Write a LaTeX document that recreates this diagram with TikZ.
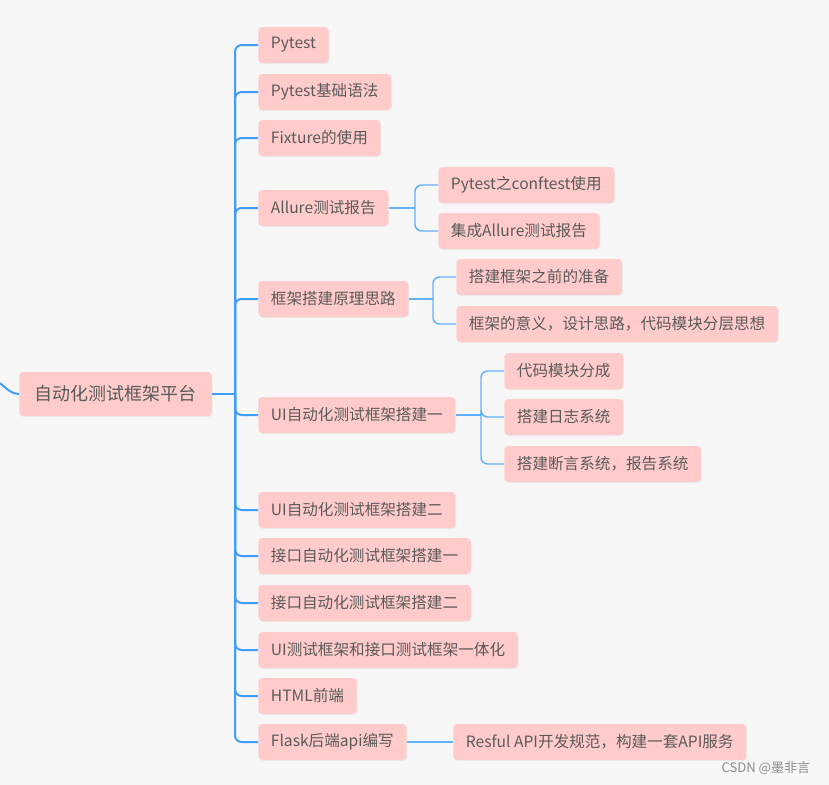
\documentclass[tikz,border=0pt]{standalone}
\usepackage{fontspec}
\setmainfont{Noto Sans CJK SC}
\usetikzlibrary{shadows}

\definecolor{paper}{HTML}{F7F7F7}
\definecolor{pinkfill}{HTML}{FFCCCB}
\definecolor{inkgrey}{HTML}{5A5A5A}
\definecolor{trunkblue}{HTML}{3D9EFF}
\definecolor{linkblue}{HTML}{62B1FF}

\begin{document}
\begin{tikzpicture}[x = 0.75pt, y = -0.75pt,
	topic/.style = {fill = pinkfill, text = inkgrey, rounded corners = 3pt,
		font = \fontsize{11.7}{14}\selectfont, minimum height = 27pt,
		inner xsep = 9.5pt, anchor = west,
		drop shadow = {shadow xshift = 0.6pt, shadow yshift = -0.8pt, fill = black!12}},
	roottopic/.style = {topic, font = \fontsize{13.5}{16}\selectfont,
		minimum height = 33pt, inner xsep = 11.5pt},
	trunk/.style = {draw = trunkblue, line width = 1.5pt, rounded corners = 5pt},
	link/.style = {draw = linkblue, line width = 1.1pt, rounded corners = 5pt}]

	% Canvas
	
	\fill [paper] (0, 0) rectangle (829, 785);
	\useasboundingbox (0, 0) rectangle (829, 785);

	% Root topic
	
	\coordinate (parent) at (0, 383);
	\node [roottopic] (root) at (19, 394) {自动化测试框架平台};
	\coordinate (fork) at (235, 394);

	% Main topics
	
	\node [topic] (pytest) at (258, 45) {Pytest};
	\node [topic] (syntax) at (258, 92) {Pytest基础语法};
	\node [topic] (fixture) at (258, 138) {Fixture的使用};
	\node [topic] (allure) at (258, 208) {Allure测试报告};
	\node [topic] (principle) at (258, 299) {框架搭建原理思路};
	\node [topic] (uione) at (258, 415) {UI自动化测试框架搭建一};
	\node [topic] (uitwo) at (258, 510) {UI自动化测试框架搭建二};
	\node [topic] (apione) at (258, 556) {接口自动化测试框架搭建一};
	\node [topic] (apitwo) at (258, 603) {接口自动化测试框架搭建二};
	\node [topic] (unify) at (258, 650) {UI测试框架和接口测试框架一体化};
	\node [topic] (html) at (258, 696) {HTML前端};
	\node [topic] (flask) at (258, 742) {Flask后端api编写};

	% Sub topics
	
	\node [topic] (conftest) at (438, 185) {Pytest之conftest使用};
	\node [topic] (report) at (438, 231) {集成Allure测试报告};
	\node [topic] (prepare) at (456, 277) {搭建框架之前的准备};
	\node [topic] (meaning) at (456, 324) {框架的意义，设计思路，代码模块分层思想};
	\node [topic] (modules) at (504, 371) {代码模块分成};
	\node [topic] (logging) at (504, 417) {搭建日志系统};
	\node [topic] (asserts) at (504, 464) {搭建断言系统，报告系统};
	\node [topic] (restful) at (453, 742) {Resful API开发规范，构建一套API服务};

	% Forks of the sub topics
	
	\coordinate (allurefork) at (415, 208);
	\coordinate (principlefork) at (433, 299);
	\coordinate (uionefork) at (481, 415);

	% Connectors (root)
	
	\draw [trunk] (parent) .. controls (8, 390) and (12, 394) .. (root.west);
	\draw [trunk] (root.east) -- (fork);
	\foreach \child in {pytest, syntax, fixture, allure, principle, uione,
		uitwo, apione, apitwo, unify, html, flask}
		\draw [trunk] (fork) |- (\child.west);

	% Connectors (sub topics)
	
	\draw [link] (allure.east) -- (allurefork);
	\foreach \child in {conftest, report}
		\draw [link] (allurefork) |- (\child.west);
	\draw [link] (principle.east) -- (principlefork);
	\foreach \child in {prepare, meaning}
		\draw [link] (principlefork) |- (\child.west);
	\draw [link] (uione.east) -- (uionefork);
	\foreach \child in {modules, logging, asserts}
		\draw [link] (uionefork) |- (\child.west);
	\draw [link] (flask.east) -- (restful.west);

	% Watermark
	
	\node [anchor = east, text = black!45, font = \fontsize{9.8}{12}\selectfont] (mark) at (815, 768) {CSDN @墨非言};

\end{tikzpicture}
\end{document}
